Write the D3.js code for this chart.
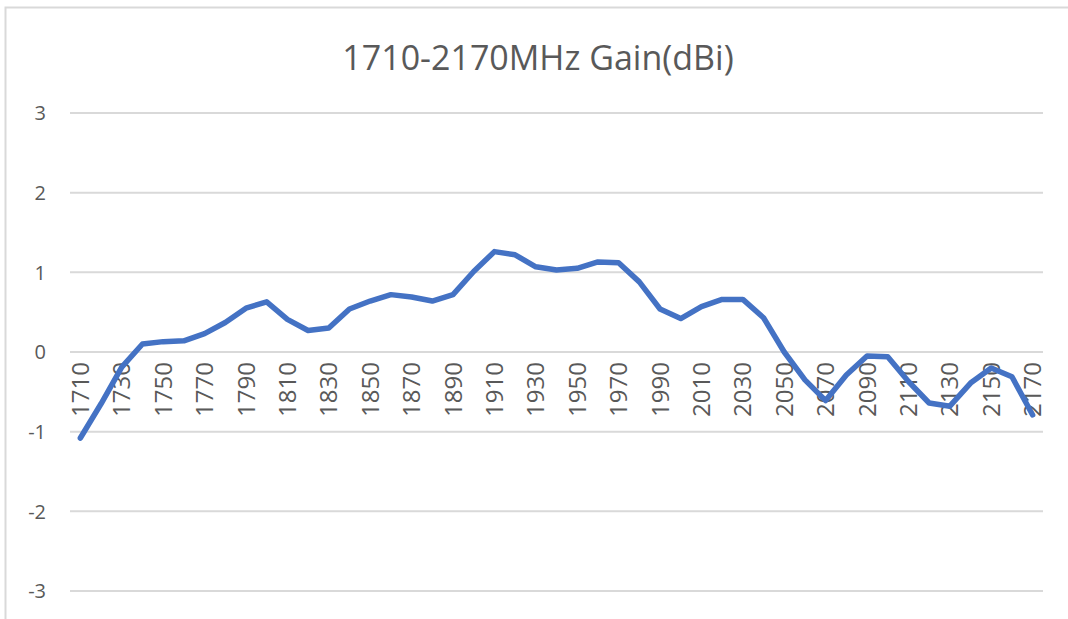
<!DOCTYPE html>
<html><head><meta charset="utf-8">
<script src="https://cdn.jsdelivr.net/npm/d3@7"></script>
<style>
html,body{margin:0;padding:0;background:#fff;}
svg{display:block;font-family:"Open Sans",sans-serif;}
</style></head>
<body>
<svg id="c" width="1068" height="619"></svg>
<script>
const chartTitle = "1710-2170MHz Gain(dBi)";
const frequencies = [1710,1720,1730,1740,1750,1760,1770,1780,1790,1800,
  1810,1820,1830,1840,1850,1860,1870,1880,1890,1900,
  1910,1920,1930,1940,1950,1960,1970,1980,1990,2000,
  2010,2020,2030,2040,2050,2060,2070,2080,2090,2100,
  2110,2120,2130,2140,2150,2160,2170];
const gain = [-1.08,-0.65,-0.19,0.10,0.13,0.14,0.23,0.37,0.55,0.63,
  0.41,0.27,0.30,0.54,0.64,0.72,0.69,0.64,0.72,1.01,
  1.26,1.22,1.07,1.03,1.05,1.13,1.12,0.88,0.54,0.42,
  0.57,0.66,0.66,0.43,0.00,-0.35,-0.61,-0.29,-0.05,-0.06,
  -0.37,-0.64,-0.68,-0.39,-0.20,-0.31,-0.79];
const yTicks = [-3,-2,-1,0,1,2,3];
const xTickLabels = [1710,1730,1750,1770,1790,1810,1830,1850,1870,1890,1910,
  1930,1950,1970,1990,2010,2030,2050,2070,2090,2110,2130,2150,2170];

const svg = d3.select("#c");
const mLeft = 70, mRight = 1043, mTop = 113, mBottom = 591;

// chart border
svg.append("rect").attr("x",5.5).attr("y",7.5).attr("width",1080).attr("height",700)
  .attr("fill","none").attr("stroke","#d9d9d9").attr("stroke-width",2);

const x = d3.scaleBand().domain(frequencies).range([mLeft,mRight]);
const y = d3.scaleLinear().domain([-3,3]).range([mBottom,mTop]);

// gridlines
svg.append("g").selectAll("line").data(yTicks).join("line")
  .attr("x1",mLeft).attr("x2",mRight)
  .attr("y1",d=>y(d)).attr("y2",d=>y(d))
  .attr("stroke","#d9d9d9").attr("stroke-width",2);

// y labels
svg.append("g").selectAll("text").data(yTicks).join("text")
  .attr("x",46).attr("y",d=>y(d)).attr("dy","0.36em")
  .attr("text-anchor","end").attr("fill","#595959").attr("font-size",20)
  .text(d=>d);

// x labels (axis crosses at 0)
svg.append("g").selectAll("text").data(xTickLabels).join("text")
  .attr("transform",d=>`translate(${x(d)+x.bandwidth()/2},${y(0)+10}) rotate(-90)`)
  .attr("dy","0.36em")
  .attr("text-anchor","end").attr("fill","#595959").attr("font-size",24)
  .text(d=>d);

// line
const line = d3.line().x((d,i)=>x(frequencies[i])+x.bandwidth()/2).y(d=>y(d));
svg.append("path").datum(gain).attr("d",line)
  .attr("fill","none").attr("stroke","#4472C4").attr("stroke-width",5.5)
  .attr("stroke-linejoin","round").attr("stroke-linecap","round");

// title
svg.append("text").attr("x",538).attr("y",70).attr("text-anchor","middle")
  .attr("fill","#595959").attr("font-size",34).text(chartTitle);
</script>
</body></html>
